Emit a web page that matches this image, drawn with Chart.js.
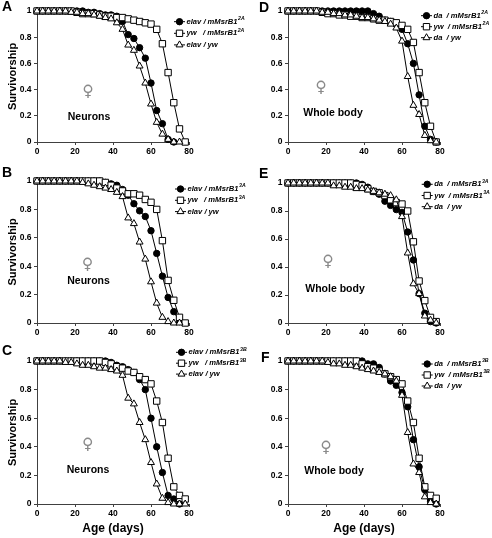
<!DOCTYPE html>
<html>
<head>
<meta charset="utf-8">
<title>Survivorship</title>
<script src="https://cdn.jsdelivr.net/npm/chart.js@4.4.1/dist/chart.umd.min.js"></script>
<style>
  html, body { margin: 0; padding: 0; background: #fff; }
  #fig { position: relative; width: 492px; height: 538px; overflow: hidden; }
  #fig canvas { position: absolute; left: 0; top: 0; }
</style>
</head>
<body>
<div id="fig">
  <canvas id="panelA" width="492" height="538"></canvas>
  <canvas id="panelB" width="492" height="538"></canvas>
  <canvas id="panelC" width="492" height="538"></canvas>
  <canvas id="panelD" width="492" height="538"></canvas>
  <canvas id="panelE" width="492" height="538"></canvas>
  <canvas id="panelF" width="492" height="538"></canvas>
</div>
<script>
// age in days (scored every 3 days)
const days = [0, 3, 6, 9, 12, 15, 18, 21, 24, 27, 30, 33, 36, 39, 42, 45, 48, 51, 54, 57, 60, 63, 66, 69, 72, 75, 78];
const xTicks = [0, 20, 40, 60, 80];
const yTicks = [0, 0.2, 0.4, 0.6, 0.8, 1];

// A - neurons, 2A line
const aElavMsr = [1, 1, 1, 1, 1, 1, 1, 1, 1, 0.99, 0.99, 0.98, 0.97, 0.97, 0.96, 0.92, 0.82, 0.79, 0.72, 0.64, 0.45, 0.24, 0.14, 0.02, 0, null, null];
const aYwMsr   = [1, 1, 1, 1, 1, 1, 1, 0.99, 0.98, 0.98, 0.98, 0.97, 0.96, 0.96, 0.95, 0.95, 0.94, 0.93, 0.92, 0.91, 0.90, 0.86, 0.75, 0.53, 0.30, 0.10, 0];
const aElavYw  = [1, 1, 1, 1, 1, 1, 0.99, 0.99, 0.98, 0.98, 0.97, 0.96, 0.95, 0.94, 0.91, 0.86, 0.74, 0.70, 0.58, 0.45, 0.29, 0.15, 0.06, 0.02, 0, 0, null];
// B - neurons, 3A line
const bElavMsr = [1, 1, 1, 1, 1, 1, 1, 1, 1, 1, 1, 1, 0.99, 0.98, 0.97, 0.94, 0.90, 0.84, 0.79, 0.75, 0.65, 0.49, 0.33, 0.18, 0.08, 0.01, null];
const bYwMsr   = [1, 1, 1, 1, 1, 1, 1, 1, 1, 1, 1, 1, 0.99, 0.97, 0.95, 0.93, 0.91, 0.91, 0.90, 0.87, 0.85, 0.80, 0.58, 0.30, 0.16, 0.04, 0];
const bElavYw  = [1, 1, 1, 1, 1, 1, 1, 1, 0.99, 0.98, 0.97, 0.96, 0.95, 0.94, 0.92, 0.89, 0.74, 0.70, 0.57, 0.45, 0.29, 0.14, 0.04, 0.01, 0, 0, null];
// C - neurons, 3B line
const cElavMsr = [1, 1, 1, 1, 1, 1, 1, 1, 1, 1, 1, 1, 1, 0.99, 0.97, 0.96, 0.94, 0.92, 0.87, 0.80, 0.60, 0.40, 0.22, 0.06, 0.035, 0, null];
const cYwMsr   = [1, 1, 1, 1, 1, 1, 1, 1, 1, 1, 1, 1, 0.99, 0.98, 0.96, 0.95, 0.93, 0.92, 0.89, 0.87, 0.84, 0.72, 0.57, 0.32, 0.12, 0.06, 0.035];
const cElavYw  = [1, 1, 1, 1, 1, 0.99, 0.99, 0.98, 0.97, 0.97, 0.96, 0.95, 0.95, 0.94, 0.93, 0.90, 0.74, 0.70, 0.57, 0.45, 0.29, 0.14, 0.04, 0.01, 0, 0, 0];
// D - whole body, 2A line
const dDaMsr = [1, 1, 1, 1, 1, 1, 1, 1, 1, 1, 1, 1, 1, 1, 1, 0.98, 0.96, 0.93, 0.92, 0.90, 0.86, 0.75, 0.60, 0.36, 0.12, 0.02, 0];
const dYwMsr = [1, 1, 1, 1, 1, 1, 0.99, 0.98, 0.98, 0.97, 0.97, 0.96, 0.96, 0.95, 0.95, 0.94, 0.93, 0.93, 0.92, 0.91, 0.89, 0.86, 0.76, 0.53, 0.30, 0.12, 0];
const dDaYw  = [1, 1, 1, 1, 1, 1, 0.99, 0.99, 0.98, 0.98, 0.97, 0.97, 0.96, 0.95, 0.95, 0.94, 0.93, 0.92, 0.90, 0.87, 0.77, 0.50, 0.28, 0.21, 0.05, 0.01, 0];
// E - whole body, 3A line
const eDaMsr = [1, 1, 1, 1, 1, 1, 1, 1, 1, 1, 1, 1, 1, 0.99, 0.97, 0.94, 0.92, 0.87, 0.84, 0.81, 0.79, 0.65, 0.45, 0.21, 0.07, 0.01, 0];
const eYwMsr = [1, 1, 1, 1, 1, 1, 1, 1, 1, 1, 1, 1, 0.99, 0.98, 0.96, 0.94, 0.93, 0.91, 0.88, 0.86, 0.85, 0.80, 0.58, 0.30, 0.16, 0.04, 0.01];
const eDaYw  = [1, 1, 1, 1, 1, 1, 1, 1, 0.98, 0.98, 0.97, 0.97, 0.96, 0.96, 0.95, 0.94, 0.93, 0.92, 0.91, 0.88, 0.76, 0.50, 0.28, 0.21, 0.05, 0.02, 0];
// F - whole body, 3B line
const fDaMsr = [1, 1, 1, 1, 1, 1, 1, 1, 1, 1, 1, 1, 1, 1, 0.98, 0.98, 0.955, 0.91, 0.86, 0.83, 0.78, 0.68, 0.45, 0.26, 0.10, 0.02, 0];
const fYwMsr = [1, 1, 1, 1, 1, 1, 1, 1, 1, 1, 1, 1, 1, 0.98, 0.96, 0.95, 0.93, 0.91, 0.89, 0.87, 0.84, 0.72, 0.57, 0.32, 0.12, 0.06, 0.04];
const fDaYw  = [1, 1, 1, 1, 1, 1, 1, 0.99, 0.98, 0.98, 0.97, 0.97, 0.96, 0.95, 0.94, 0.93, 0.92, 0.91, 0.89, 0.86, 0.76, 0.50, 0.28, 0.22, 0.05, 0.01, 0];

const neuronLabels = ['elav / mMsrB1', 'yw   / mMsrB1', 'elav / yw'];
const bodyLabels = ['da  / mMsrB1', 'yw  / mMsrB1', 'da  / yw'];

const FONT = "'Liberation Sans', Arial, sans-serif";
const AXIS = '#404040';

// marker look shared by chart points and legend
const marks = [
  { pointStyle: 'circle', radius: 3.2, fill: '#000', order: 3 },
  { pointStyle: 'rect', radius: 4.5, fill: '#fff', order: 2 },
  { pointStyle: 'triangle', radius: 4, fill: '#fff', order: 1 }
];

// plot boxes are [left, top, right, bottom] in page pixels
const panels = [
  { id: 'panelA', letter: 'A', at: [2, 11], box: [37, 11, 189, 142], series: [aElavMsr, aYwMsr, aElavYw],
    labels: neuronLabels, sup: '2A', legend: [174, 21.7, 11.6], tissue: 'Neurons', tissueAt: [89, 117], venus: [88, 84], yTitle: true },
  { id: 'panelB', letter: 'B', at: [2, 177], box: [37, 181, 189, 323], series: [bElavMsr, bYwMsr, bElavYw],
    labels: neuronLabels, sup: '3A', legend: [175, 189, 11.3], tissue: 'Neurons', tissueAt: [88.5, 281.5], venus: [87.5, 257], yTitle: true },
  { id: 'panelC', letter: 'C', at: [2, 355], box: [37, 361, 189, 504], series: [cElavMsr, cYwMsr, cElavYw],
    labels: neuronLabels, sup: '3B', legend: [176, 352.3, 10.9], tissue: 'Neurons', tissueAt: [88, 470.5], venus: [87.7, 437], yTitle: true, xTitle: true },
  { id: 'panelD', letter: 'D', at: [259, 12], box: [288, 11, 440, 142], series: [dDaMsr, dYwMsr, dDaYw],
    labels: bodyLabels, sup: '2A', legend: [421, 15.7, 11], tissue: 'Whole body', tissueAt: [333, 113], venus: [321, 80] },
  { id: 'panelE', letter: 'E', at: [259, 178], box: [288, 183, 440, 323], series: [eDaMsr, eYwMsr, eDaYw],
    labels: bodyLabels, sup: '3A', legend: [421.7, 184.3, 11.2], tissue: 'Whole body', tissueAt: [335, 289], venus: [328, 254] },
  { id: 'panelF', letter: 'F', at: [261, 362], box: [288, 361, 440, 504], series: [fDaMsr, fYwMsr, fDaYw],
    labels: bodyLabels, sup: '3B', legend: [421.7, 364, 11], tissue: 'Whole body', tissueAt: [334, 471.5], venus: [326, 439.5], xTitle: true }
];

function drawMark(ctx, m, x, y) {
  const r = m.radius;
  ctx.beginPath();
  if (m.pointStyle === 'circle') {
    ctx.arc(x, y, r, 0, Math.PI * 2);
  } else if (m.pointStyle === 'rect') {
    const h = r * Math.SQRT1_2;
    ctx.rect(x - h, y - h, 2 * h, 2 * h);
  } else {
    ctx.moveTo(x, y - r);
    ctx.lineTo(x + r * 0.866, y + r * 0.5);
    ctx.lineTo(x - r * 0.866, y + r * 0.5);
    ctx.closePath();
  }
  ctx.fillStyle = m.fill;
  ctx.fill();
  ctx.lineWidth = 1;
  ctx.strokeStyle = '#000';
  ctx.stroke();
}

function extras(p) {
  return {
    id: 'extras',
    afterDraw(chart) {
      const ctx = chart.ctx;
      ctx.save();
      // panel letter
      ctx.fillStyle = '#000';
      ctx.textAlign = 'left';
      ctx.textBaseline = 'alphabetic';
      ctx.font = 'bold 14px ' + FONT;
      ctx.fillText(p.letter, p.at[0], p.at[1]);

      // female sign
      ctx.font = '15px "DejaVu Sans"';
      const mv = ctx.measureText('\u2640');
      const hv = mv.actualBoundingBoxAscent + mv.actualBoundingBoxDescent;
      const size = 15 * 13.5 / hv;
      ctx.font = size.toFixed(2) + 'px "DejaVu Sans"';
      const mv2 = ctx.measureText('\u2640');
      ctx.fillStyle = '#8a8a8a';
      ctx.textAlign = 'center';
      ctx.fillText('\u2640', p.venus[0], p.venus[1] + mv2.actualBoundingBoxAscent);

      // tissue label
      ctx.fillStyle = '#000';
      ctx.textBaseline = 'middle';
      ctx.font = 'bold 10.5px ' + FONT;
      ctx.fillText(p.tissue, p.tissueAt[0], p.tissueAt[1]);

      // legend: line + marker, italic genotype with superscript
      const [lx, ly, gap] = p.legend;
      ctx.textAlign = 'left';
      p.labels.forEach((lab, i) => {
        const y = ly + i * gap;
        ctx.beginPath();
        ctx.moveTo(lx, y);
        ctx.lineTo(lx + 11, y);
        ctx.lineWidth = 1;
        ctx.strokeStyle = '#000';
        ctx.stroke();
        drawMark(ctx, marks[i], lx + 5.5, y);
        ctx.fillStyle = '#000';
        ctx.textBaseline = 'middle';
        ctx.font = 'italic bold 7.6px ' + FONT;
        ctx.fillText(lab, lx + 12.5, y);
        if (i < 2) {
          const w = ctx.measureText(lab).width;
          ctx.font = 'italic bold 5.2px ' + FONT;
          ctx.fillText(p.sup, lx + 12.5 + w + 0.5, y - 3);
        }
      });
      ctx.restore();
    }
  };
}

function makePanel(p) {
  const [left, top, right, bottom] = p.box;
  const yW = p.yTitle ? 37 : 30;
  const xH = p.xTitle ? 34 : 16;
  const tickFont = { family: FONT, size: 8.5, weight: 'bold' };

  const datasets = p.series.map((vals, i) => ({
    data: days.map((d, k) => ({ x: d, y: vals[k] })),
    borderColor: '#000',
    borderWidth: 1,
    pointStyle: marks[i].pointStyle,
    pointRadius: marks[i].radius,
    pointBackgroundColor: marks[i].fill,
    pointBorderColor: '#000',
    pointBorderWidth: 1,
    order: marks[i].order,
    tension: 0,
    fill: false,
    clip: false
  }));

  new Chart(document.getElementById(p.id), {
    type: 'line',
    data: { datasets },
    plugins: [extras(p)],
    options: {
      responsive: false,
      animation: false,
      events: [],
      layout: { padding: { left: left - yW, top: top, right: 492 - right, bottom: 538 - bottom - xH } },
      plugins: { legend: { display: false }, tooltip: { enabled: false } },
      scales: {
        x: {
          type: 'linear', min: 0, max: 80,
          afterBuildTicks: s => { s.ticks = xTicks.map(v => ({ value: v })); },
          afterFit: s => { s.height = xH; },
          grid: { display: true, drawOnChartArea: false, drawTicks: true, tickLength: 3, color: AXIS },
          border: { display: true, color: AXIS, width: 1 },
          ticks: { font: tickFont, color: '#000', padding: 2, maxRotation: 0 },
          title: { display: !!p.xTitle, text: 'Age (days)', color: '#000',
                   font: { family: FONT, size: 12, weight: 'bold' }, padding: { top: 0, bottom: 2 } }
        },
        y: {
          min: 0, max: 1,
          afterBuildTicks: s => { s.ticks = yTicks.map(v => ({ value: v })); },
          afterFit: s => { s.width = yW; },
          grid: { display: true, drawOnChartArea: false, drawTicks: true, tickLength: 3, color: AXIS },
          border: { display: true, color: AXIS, width: 1 },
          ticks: { font: tickFont, color: '#000', padding: 2.5, callback: v => String(Math.round(v * 10) / 10) },
          title: { display: !!p.yTitle, text: 'Survivorship', color: '#000',
                   font: { family: FONT, size: 11, weight: 'bold' }, padding: { top: 6, bottom: 0 } }
        }
      }
    }
  });
}

panels.forEach(makePanel);
</script>
</body>
</html>
